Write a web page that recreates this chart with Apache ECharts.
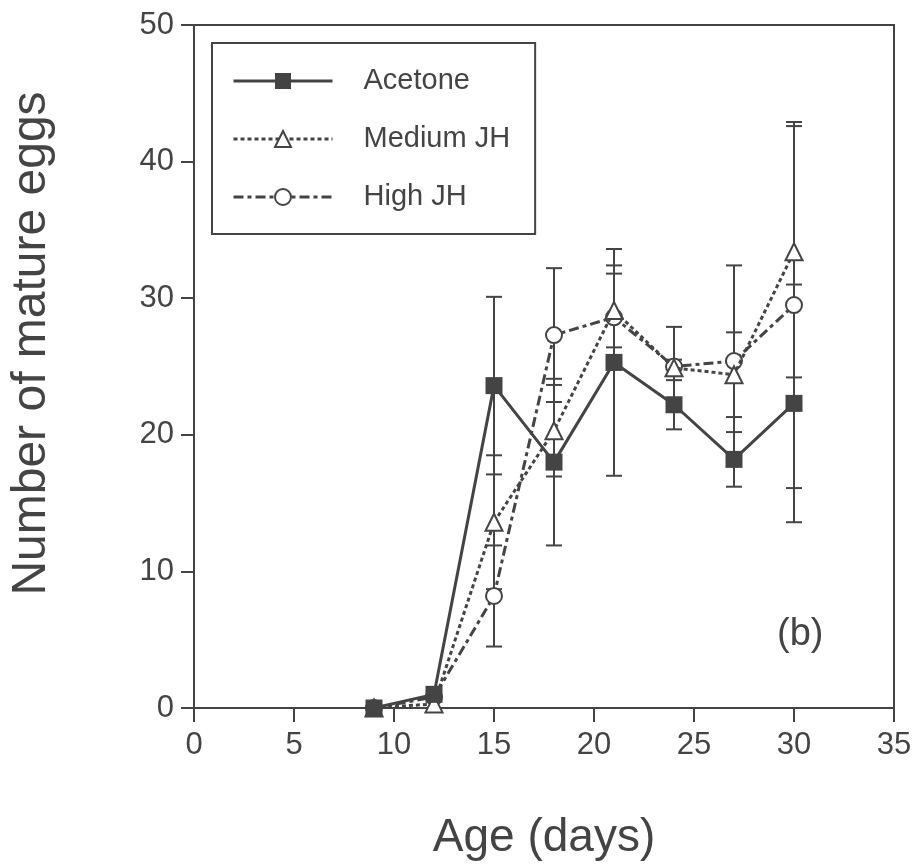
<!DOCTYPE html>
<html>
<head>
<meta charset="utf-8">
<script src="https://cdn.jsdelivr.net/npm/echarts@6/dist/echarts.min.js"></script>
<style>
  html, body { margin: 0; padding: 0; background: #fff; }
  #chart { width: 921px; height: 867px; }
</style>
</head>
<body>
<div id="chart"></div>
<script>
// values (mean and error half-width)
const days = [9, 12, 15, 18, 21, 24, 27, 30]
const acetone = [0, 1.0, 23.6, 18.0, 25.3, 22.2, 18.2, 22.3]
const acetoneErr = [0, 0, 6.5, 6.1, 8.3, 1.8, 2.0, 8.7]
const mediumJH = [0, 0.3, 13.6, 20.3, 29.1, 24.9, 24.4, 33.4]
const mediumErr = [0, 0, 4.9, 3.35, 2.7, 0.6, 3.1, 9.2]
const highJH = [0, 0.8, 8.2, 27.3, 28.6, 25.0, 25.4, 29.5]
const highErr = [0, 0, 3.7, 4.9, 3.8, 2.9, 7.0, 13.4]
const xTicks = [0, 5, 10, 15, 20, 25, 30, 35]
const yTicks = [0, 10, 20, 30, 40, 50]

const ink = '#444'
const font = 'Liberation Sans, Arial, sans-serif'

const pairs = (ys) => days.map((d, i) => [d, ys[i]])
const errRows = (ys, es) => days.map((d, i) => [d, ys[i] - es[i], ys[i] + es[i]])

// vertical bar with caps, drawn through the axis scales
function errorBar(params, api) {
  const lo = api.value(1), hi = api.value(2)
  if (hi - lo <= 0) return null
  const a = api.coord([api.value(0), lo])
  const b = api.coord([api.value(0), hi])
  const w = 8
  const st = { stroke: ink, lineWidth: 2, fill: null }
  return {
    type: 'group',
    children: [
      { type: 'line', shape: { x1: a[0], y1: a[1], x2: b[0], y2: b[1] }, style: st },
      { type: 'line', shape: { x1: a[0] - w, y1: a[1], x2: a[0] + w, y2: a[1] }, style: st },
      { type: 'line', shape: { x1: b[0] - w, y1: b[1], x2: b[0] + w, y2: b[1] }, style: st }
    ]
  }
}

const chart = echarts.init(document.getElementById('chart'))

const option = {
  animation: false,
  backgroundColor: '#fff',
  grid: {
    left: 189, right: 27, top: 25, bottom: 159,
    show: true, borderColor: ink, borderWidth: 2, backgroundColor: 'transparent'
  },
  legend: {
    data: ['Acetone', 'Medium JH', 'High JH'],
    orient: 'vertical',
    left: 212, top: 43,
    padding: [23, 25, 22, 20],
    borderColor: ink, borderWidth: 2,
    itemWidth: 99, itemHeight: 20, itemGap: 28,
    selectedMode: false,
    lineStyle: { width: 3 },
    textStyle: { color: ink, fontFamily: font, fontSize: 29, lineHeight: 30, padding: [0, 0, 0, 26] }
  },
  xAxis: {
    type: 'value', min: 0, max: 35, interval: 5,
    name: 'Age (days)', nameLocation: 'middle', nameGap: 107,
    nameTextStyle: { color: ink, fontFamily: font, fontSize: 46 },
    axisLine: { show: true, onZero: false, lineStyle: { color: ink, width: 2 } },
    axisTick: { show: true, inside: false, length: 14, lineStyle: { color: ink, width: 2 } },
    axisLabel: { color: ink, fontFamily: font, fontSize: 31, margin: 22,
      formatter: (v) => xTicks.includes(v) ? String(v) : '' },
    splitLine: { show: false }
  },
  yAxis: {
    type: 'value', min: 0, max: 50, interval: 10,
    name: 'Number of mature eggs', nameLocation: 'middle', nameGap: 138,
    nameTextStyle: { color: ink, fontFamily: font, fontSize: 48, padding: [0, 0, 0, 46] },
    axisLine: { show: true, lineStyle: { color: ink, width: 2 } },
    axisTick: { show: true, inside: false, length: 13, lineStyle: { color: ink, width: 2 } },
    axisLabel: { color: ink, fontFamily: font, fontSize: 31, margin: 20,
      formatter: (v) => yTicks.includes(v) ? String(v) : '' },
    splitLine: { show: false }
  },
  graphic: [{
    type: 'text', left: 777, top: 616,
    style: { text: '(b)', fill: ink, font: '38px ' + font }
  }],
  series: [
    { type: 'custom', name: 'errA', renderItem: errorBar, data: errRows(acetone, acetoneErr), z: 1, encode: { x: 0, y: [1, 2] } },
    { type: 'custom', name: 'errM', renderItem: errorBar, data: errRows(mediumJH, mediumErr), z: 1, encode: { x: 0, y: [1, 2] } },
    { type: 'custom', name: 'errH', renderItem: errorBar, data: errRows(highJH, highErr), z: 1, encode: { x: 0, y: [1, 2] } },
    {
      name: 'High JH', type: 'line', data: pairs(highJH), z: 3,
      symbol: 'circle', symbolSize: 16, showAllSymbol: true,
      lineStyle: { color: ink, width: 3, type: [10, 4, 4, 4] },
      itemStyle: { color: '#fff', borderColor: ink, borderWidth: 2 }
    },
    {
      name: 'Medium JH', type: 'line', data: pairs(mediumJH), z: 4,
      symbol: 'triangle', symbolSize: 17, showAllSymbol: true,
      lineStyle: { color: ink, width: 3, type: [4, 3] },
      itemStyle: { color: '#fff', borderColor: ink, borderWidth: 2 }
    },
    {
      name: 'Acetone', type: 'line', data: pairs(acetone), z: 5,
      symbol: 'rect', symbolSize: 17, showAllSymbol: true,
      lineStyle: { color: ink, width: 3, type: 'solid' },
      itemStyle: { color: ink, borderColor: ink, borderWidth: 0 }
    }
  ]
}

chart.setOption(option)
</script>
</body>
</html>
